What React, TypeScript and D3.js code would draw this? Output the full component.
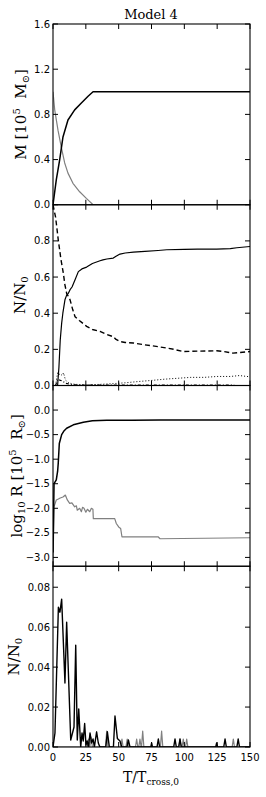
import React from "react";
import * as d3 from "d3";

// time axis
const timeTicks = [0, 25, 50, 75, 100, 125, 150];

// panel 1: mass
const massStarT = [0, 2.5, 5.1, 7.6, 11.4, 16.5, 21.6, 26.7, 30.5, 150];
const massStar = [0, 0.22, 0.4, 0.6, 0.75, 0.84, 0.9, 0.96, 1.0, 1.0];
const massGasT = [0, 1.3, 3.8, 6.3, 8.9, 11.4, 15.2, 20.3, 25.4, 30.5];
const massGas = [1.0, 0.84, 0.66, 0.51, 0.37, 0.28, 0.19, 0.115, 0.056, 0];
const massTicks = [0, 0.4, 0.8, 1.2, 1.6];

// panel 2: number fractions
const boundT = [3.5, 4.5, 5.5, 6.6, 7.5, 9.1, 10.4, 11.7, 13, 14.5, 16.8, 19.3, 22, 25.6, 30, 35.8, 38, 41, 45.9, 48, 51, 55, 61.2, 70, 80, 86.6, 100, 110, 124.6, 135, 140, 150];
const bound = [0, 0.1, 0.25, 0.345, 0.4, 0.474, 0.5, 0.51, 0.53, 0.545, 0.585, 0.63, 0.645, 0.655, 0.675, 0.69, 0.695, 0.7, 0.705, 0.715, 0.727, 0.733, 0.738, 0.742, 0.747, 0.751, 0.753, 0.754, 0.755, 0.757, 0.762, 0.769];
const unboundT = [0, 2, 4, 6, 7.9, 9, 10.4, 13, 15, 16.8, 20, 25.6, 30, 35.8, 40, 45.9, 48, 51, 55, 61.2, 70, 80, 86.6, 92, 99.2, 110, 124.6, 130, 137, 150];
const unbound = [1.0, 0.93, 0.806, 0.7, 0.62, 0.56, 0.51, 0.474, 0.42, 0.38, 0.36, 0.327, 0.31, 0.299, 0.285, 0.27, 0.255, 0.243, 0.238, 0.235, 0.225, 0.215, 0.207, 0.2, 0.188, 0.19, 0.192, 0.188, 0.179, 0.188];
const looseT = [2, 3.5, 4.5, 5.5, 7, 8, 9.5, 12, 15, 20, 25, 35, 45, 55, 65, 75, 85, 95, 105, 115, 125, 135, 142, 150];
const loose = [0, 0.07, 0.06, 0.065, 0.055, 0.07, 0.03, 0.015, 0.008, 0.005, 0.004, 0.006, 0.01, 0.015, 0.022, 0.028, 0.035, 0.04, 0.045, 0.045, 0.05, 0.05, 0.055, 0.048];
const lostT = [2, 3.5, 5, 7, 10, 14, 20, 40, 70, 100, 138];
const lost = [0, 0.035, 0.03, 0.025, 0.012, 0.005, 0.002, 0.002, 0.002, 0.002, 0.002];
const fracTicks = [0, 0.2, 0.4, 0.6, 0.8];

// panel 3: log radius
const radStarT = [0, 0.8, 2.5, 3.5, 4.0, 4.8, 6.6, 8.5, 10.4, 15.5, 23.1, 30, 40.9, 60, 81.5, 150];
const radStar = [-2.9, -1.5, -1.42, -1.25, -1.08, -0.68, -0.5, -0.42, -0.37, -0.3, -0.25, -0.22, -0.21, -0.205, -0.2, -0.2];
const radGasT = [0, 0.76, 2.5, 4.1, 5.5, 7.6, 9.4, 10.9, 12.7, 14.4, 16.5, 17.8, 18.5, 20.3, 21.6, 22.5, 23.6, 25, 26.2, 28, 29.2, 30.4, 30.7, 47, 48.2, 50, 51.5, 52.5, 80, 81.5, 150];
const radGas = [-3.2, -1.97, -1.83, -1.81, -1.79, -1.77, -1.73, -1.83, -1.9, -1.89, -1.97, -1.95, -2.04, -2.0, -2.07, -1.98, -2.0, -2.08, -2.02, -2.07, -2.0, -2.02, -2.21, -2.21, -2.31, -2.38, -2.41, -2.58, -2.58, -2.62, -2.6];
const radTicks = [0, -0.5, -1, -1.5, -2, -2.5, -3];

// panel 4: escapers per output
const escStar: [number, number][] = [[0, 0], [1.5, 0.007], [4.1, 0.07], [5.3, 0.0675], [6.6, 0.074], [9.1, 0.032], [10.4, 0.0625], [13.5, 0.0035], [16, 0.01], [17.3, 0.051], [18.5, 0.0035], [19.6, 0.019], [21.1, 0], [22.1, 0.007], [23, 0.003], [24.1, 0.0118], [25.1, 0.001], [26, 0.003], [27, 0], [28.2, 0.007], [29.4, 0.002], [30.5, 0.004], [31.5, 0], [33.2, 0.0076], [34.5, 0.002], [35.7, 0], [40.2, 0], [41.4, 0.0076], [42.9, 0], [46, 0], [47.2, 0.0155], [49, 0.0043], [51, 0.003], [52.3, 0], [56.3, 0], [57.4, 0.0035], [58.6, 0], [74.5, 0], [75.1, 0.002], [75.7, 0], [79.2, 0], [80.2, 0.004], [81.2, 0], [91.9, 0], [92.9, 0.004], [93.9, 0], [95.7, 0], [96.7, 0.004], [97.7, 0], [123.9, 0], [124.6, 0.002], [125.3, 0], [130, 0], [131, 0.004], [132, 0], [140, 0], [141, 0.004], [142, 0], [150, 0]];
const escGas: [number, number][] = [[0, 0], [26, 0], [27, 0.004], [28, 0], [29, 0.005], [30, 0], [40, 0], [40.9, 0.008], [41.8, 0], [51.6, 0], [52.5, 0.004], [53.4, 0], [55.5, 0], [56.5, 0.004], [57.5, 0], [62.8, 0], [63.7, 0.004], [64.6, 0], [65.3, 0], [66.2, 0.004], [67.1, 0], [67.4, 0], [68.3, 0.008], [69.2, 0], [81.8, 0], [82.7, 0.008], [83.6, 0], [95.8, 0], [96.7, 0.004], [97.6, 0], [98.3, 0], [99.2, 0.004], [100.1, 0], [100.9, 0], [101.8, 0.004], [102.7, 0], [136.4, 0], [137.3, 0.004], [138.2, 0], [150, 0]];
const escTicks = [0, 0.02, 0.04, 0.06, 0.08];

const W = 266, H = 797;
const left = 53, right = 250, top = 24, panelH = 180.75;
const tickLen = 5;
const serif = "DejaVu Serif";
const sans = "DejaVu Sans";
const grey = "#808080";

const x = d3.scaleLinear().domain([0, 150]).range([left, right]);

const zip = (t: number[], v: number[]) => t.map((d, i) => [d, v[i]] as [number, number]);

type Series = { pts: [number, number][]; color: string; width: number; dash?: string };
type Panel = { domain: [number, number]; ticks: number[]; fmt: string; series: Series[]; labelX: number };

const panels: Panel[] = [
  {
    domain: [0, 1.6], ticks: massTicks, fmt: ".1f", labelX: 26,
    series: [
      { pts: zip(massGasT, massGas), color: grey, width: 1.2 },
      { pts: zip(massStarT, massStar), color: "#000", width: 1.5 },
    ],
  },
  {
    domain: [0, 1.0], ticks: fracTicks, fmt: ".1f", labelX: 25,
    series: [
      { pts: zip(looseT, loose), color: "#000", width: 1, dash: "1,2" },
      { pts: zip(lostT, lost), color: "#000", width: 1.2, dash: "3,2,1,2" },
      { pts: zip(unboundT, unbound), color: "#000", width: 1.4, dash: "5,3" },
      { pts: zip(boundT, bound), color: "#000", width: 1.2 },
    ],
  },
  {
    domain: [-3.18, 0.5], ticks: radTicks, fmt: ".1f", labelX: 22,
    series: [
      { pts: zip(radGasT, radGas), color: grey, width: 1.2 },
      { pts: zip(radStarT, radStar), color: "#000", width: 1.5 },
    ],
  },
  {
    domain: [0, 0.0905], ticks: escTicks, fmt: ".2f", labelX: 19,
    series: [
      { pts: escGas, color: grey, width: 1.2 },
      { pts: escStar, color: "#000", width: 1.4 },
    ],
  },
];

function YLabel({ i, cx, cy }: { i: number; cx: number; cy: number }) {
  const base = { fontFamily: serif, fontSize: 15, textAnchor: "middle" as const };
  const tr = `translate(${cx},${cy}) rotate(-90)`;
  if (i === 0)
    return (
      <text transform={tr} {...base}>
        <tspan>M [10</tspan>
        <tspan dy={-6} fontSize={10}>5</tspan>
        <tspan dy={6}>{"\u00a0\u00a0M"}</tspan>
        <tspan dy={3} fontSize={10}>⊙</tspan>
        <tspan dy={-3}>]</tspan>
      </text>
    );
  if (i === 2)
    return (
      <text transform={tr} {...base}>
        <tspan>log</tspan>
        <tspan dy={3} fontSize={10}>10</tspan>
        <tspan dy={-3}>{"\u00a0R [10"}</tspan>
        <tspan dy={-6} fontSize={10}>5</tspan>
        <tspan dy={6}>{"\u00a0\u00a0R"}</tspan>
        <tspan dy={3} fontSize={10}>⊙</tspan>
        <tspan dy={-3}>]</tspan>
      </text>
    );
  return (
    <text transform={tr} {...base}>
      <tspan>N/N</tspan>
      <tspan dy={3} fontSize={10}>0</tspan>
    </text>
  );
}

export default function App() {
  return (
    <svg width={W} height={H} style={{ position: "absolute", left: 0, top: 0, background: "#fff" }}>
      <text x={151} y={19} fontFamily={serif} fontSize={13} textAnchor="middle">Model 4</text>
      {panels.map((p, i) => {
        const y0 = top + i * panelH;
        const y = d3.scaleLinear().domain(p.domain).range([y0 + panelH, y0]);
        const line = d3.line<[number, number]>().x((d) => x(d[0])).y((d) => y(d[1]));
        const fmt = d3.format(p.fmt);
        return (
          <g key={i}>
            <defs>
              <clipPath id={`clip${i}`}>
                <rect x={left} y={y0} width={right - left} height={panelH} />
              </clipPath>
            </defs>
            <g clipPath={`url(#clip${i})`}>
              {p.series.map((s, j) => (
                <path key={j} d={line(s.pts) || ""} fill="none" stroke={s.color} strokeWidth={s.width}
                  strokeDasharray={s.dash} strokeLinejoin="round" />
              ))}
            </g>
            <rect x={left} y={y0} width={right - left} height={panelH} fill="none" stroke="#000" strokeWidth={1.1} />
            {timeTicks.map((t) => (
              <g key={t} stroke="#000" strokeWidth={1}>
                <line x1={x(t)} x2={x(t)} y1={y0} y2={y0 + tickLen} />
                <line x1={x(t)} x2={x(t)} y1={y0 + panelH} y2={y0 + panelH - tickLen} />
              </g>
            ))}
            {p.ticks.map((v) => (
              <g key={v}>
                <line x1={left} x2={left + tickLen} y1={y(v)} y2={y(v)} stroke="#000" />
                <line x1={right} x2={right - tickLen} y1={y(v)} y2={y(v)} stroke="#000" />
                <text x={left - 3} y={y(v)} dy="0.35em" textAnchor="end" fontFamily={sans} fontSize={10}>
                  {fmt(v)}
                </text>
              </g>
            ))}
            <YLabel i={i} cx={p.labelX} cy={y0 + panelH / 2} />
          </g>
        );
      })}
      {timeTicks.map((t) => (
        <text key={t} x={x(t)} y={760.5} textAnchor="middle" fontFamily={sans} fontSize={10}>{t}</text>
      ))}
      <text x={151} y={782} textAnchor="middle" fontFamily={serif} fontSize={14}>
        <tspan>T/T</tspan>
        <tspan dy={3} fontSize={9}>cross,0</tspan>
      </text>
    </svg>
  );
}
